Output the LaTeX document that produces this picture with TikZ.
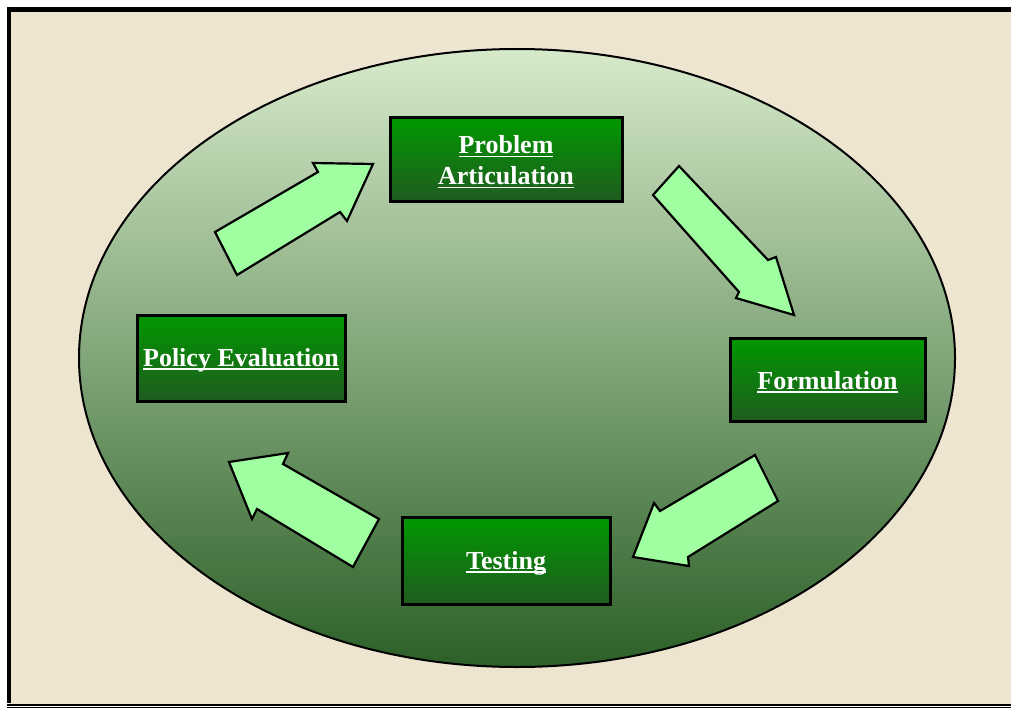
\documentclass[tikz,border=0pt]{standalone}
\usepackage{fontspec}
\setmainfont{Liberation Serif}
\newcommand{\myul}[1]{\setbox0\hbox{#1}\rlap{\rule[-3.5pt]{\wd0}{1.6pt}}\box0}
\definecolor{cream}{RGB}{237,229,207}
\definecolor{ellTop}{RGB}{214,234,202}
\definecolor{ellMid}{RGB}{128,168,112}
\definecolor{ellBot}{RGB}{44,96,40}
\definecolor{boxTop}{RGB}{0,152,0}
\definecolor{boxBot}{RGB}{32,92,32}
\definecolor{arrowFill}{RGB}{160,255,160}
\tikzset{
  stagebox/.style={draw=black, line width=3pt, top color=boxTop, bottom color=boxBot, inner sep=0pt},
  stagelabel/.style={text=white, align=center, inner sep=0pt,
    font=\fontsize{26}{31}\selectfont\bfseries},
  blockarrow/.style={draw=black, line width=2.2pt, fill=arrowFill, line join=miter}
}
\begin{document}
\begin{tikzpicture}[x=1pt,y=-1pt]
\useasboundingbox (0,0) rectangle (1011,709);
\fill[white] (0,0) rectangle (1011,709);
\fill[cream] (9,10) rectangle (1011,704);
\draw[line width=4.4pt] (9,703) -- (9,9.5) -- (1011,9.5);
\draw[line width=2pt] (7,704.7) -- (1011,704.7);
\draw[line width=1.3pt] (7,707.6) -- (1011,707.6);
% ellipse
\shade[top color=ellTop, middle color=ellMid, bottom color=ellBot] (517,358) ellipse [x radius=438, y radius=309];
\draw[line width=2pt] (517,358) ellipse [x radius=438, y radius=309];
% boxes
\node[stagebox, minimum width=232pt, minimum height=84pt] (pa) at (506,159) {};
\node[stagelabel] (paT) at (506,162) {\myul{Problem}\\\myul{Articulation}};
\node[stagebox, minimum width=195pt, minimum height=83pt] (fo) at (827.5,380) {};
\node[stagelabel] (foT) at (827.5,382) {\myul{Formulation}};
\node[stagebox, minimum width=208pt, minimum height=87pt] (te) at (506,560.5) {};
\node[stagelabel] (teT) at (506,563) {\myul{Testing}};
\node[stagebox, minimum width=208pt, minimum height=86pt] (pe) at (241,358) {};
\node[stagelabel] (peT) at (241,360) {\myul{Policy Evaluation}};
% arrows
\draw[blockarrow] (215,232) -- (318,172) -- (313,163) -- (373,164) -- (347,221) -- (340,212) -- (237,275) -- cycle;
\draw[blockarrow] (679,166) -- (768,260) -- (776,257) -- (794,315) -- (736,298) -- (739,292) -- (653,195) -- cycle;
\draw[blockarrow] (755,455) -- (778,501) -- (688,557) -- (689,566) -- (633,557) -- (654,503) -- (660,511) -- cycle;
\draw[blockarrow] (229,462) -- (288,453) -- (283,464) -- (379,519) -- (353,567) -- (257,509) -- (252,519) -- cycle;
\end{tikzpicture}
\end{document}
